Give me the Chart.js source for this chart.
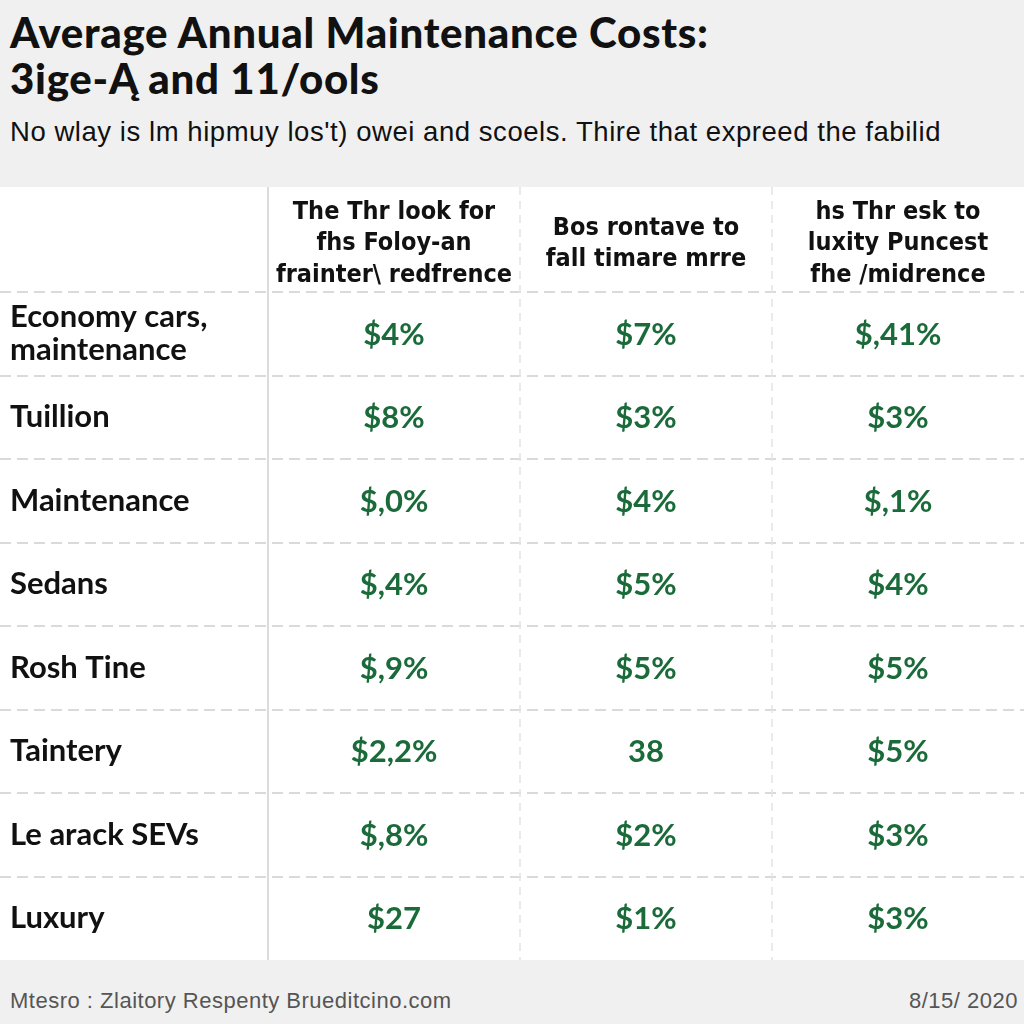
<!DOCTYPE html>
<html>
<head>
<meta charset="utf-8">
<script src="https://cdn.jsdelivr.net/npm/chart.js@4.4.1/dist/chart.umd.min.js"></script>
<style>
  html, body { margin: 0; padding: 0; width: 1024px; height: 1024px; overflow: hidden; background: #f0f0f0; }
  #title { position: absolute; left: 10px; top: 9px; margin: 0; color: #111;
           font: 900 42px/46px Lato, sans-serif; letter-spacing: 0.7px; }
  #subtitle { position: absolute; left: 10px; top: 116px; margin: 0; color: #111;
              font: 27.5px/32px "Liberation Sans", sans-serif; letter-spacing: 0.55px; }
  #table { position: absolute; left: 0; top: 187px; width: 1024px; height: 773px; background: #fff; }
  #footer { position: absolute; left: 0; top: 960px; width: 1024px; height: 64px; color: #555;
            font: 22px/26px "Liberation Sans", sans-serif; letter-spacing: 0.5px; }
  #footer .src { position: absolute; left: 10px; top: 28px; }
  #footer .date { position: absolute; right: 6px; top: 28px; }
</style>
</head>
<body>
<h1 id="title">Average Annual Maintenance Costs:<br>3ige-Ą and 11/ools</h1>
<p id="subtitle">No wlay is lm hipmuy los't) owei and scoels. Thire that expreed the fabilid</p>
<div id="table"><canvas id="chart"></canvas></div>
<div id="footer"><span class="src">Mtesro : Zlaitory Respenty Brueditcino.com</span><span class="date">8/15/ 2020</span></div>

<script>
// ── Table data ────────────────────────────────────────────────────────────────
const rowLabels = [["Economy cars,", "maintenance"], "Tuillion", "Maintenance", "Sedans",
                   "Rosh Tine", "Taintery", "Le arack SEVs", "Luxury"];
const columnHeaders = [
  ["The Thr look for", "fhs Foloy-an", "frainter\\ redfrence"],
  ["Bos rontave to", "fall timare mrre"],
  ["hs Thr esk to", "luxity Puncest", "fhe /midrence"]
];
const col1Values = ["$4%", "$8%", "$,0%", "$,4%", "$,9%", "$2,2%", "$,8%", "$27"];
const col2Values = ["$7%", "$3%", "$4%", "$5%", "$5%", "38", "$2%", "$1%"];
const col3Values = ["$,41%", "$3%", "$,1%", "$4%", "$5%", "$5%", "$3%", "$3%"];

const columns = [col1Values, col2Values, col3Values];
const GREEN = "#1b6b3a";

// one scatter dataset per column, one (invisible) point per cell
const datasets = columns.map((vals, c) => ({
  data: vals.map((_, r) => ({ x: c, y: r })),
  cellText: vals,
  pointRadius: 0,
  pointHoverRadius: 0
}));

// ── Plugins ──────────────────────────────────────────────────────────────────
const tableRules = {
  id: "tableRules",
  beforeDatasetsDraw(chart) {
    const { ctx, scales: { x, y } } = chart;
    const W = chart.width, H = chart.height;
    ctx.save();
    // row separators, full width
    ctx.strokeStyle = "#dadada";
    ctx.lineWidth = 2;
    ctx.setLineDash([11, 6]);
    for (let r = 0; r < rowLabels.length; r++) {
      const py = Math.round(y.getPixelForValue(r - 0.5));
      ctx.beginPath(); ctx.moveTo(0, py); ctx.lineTo(W, py); ctx.stroke();
    }
    // column separators
    ctx.setLineDash([]);
    ctx.strokeStyle = "#dcdcdc";
    const x0 = Math.round(x.getPixelForValue(-0.5));
    ctx.beginPath(); ctx.moveTo(x0, 0); ctx.lineTo(x0, H); ctx.stroke();
    ctx.strokeStyle = "#e4e4e4";
    ctx.lineWidth = 1.5;
    ctx.setLineDash([8, 6]);
    for (let c = 0; c < columnHeaders.length - 1; c++) {
      const px = Math.round(x.getPixelForValue(c + 0.5));
      ctx.beginPath(); ctx.moveTo(px, 0); ctx.lineTo(px, H); ctx.stroke();
    }
    ctx.restore();
  }
};

const cellText = {
  id: "cellText",
  afterDatasetsDraw(chart) {
    const { ctx } = chart;
    ctx.save();
    ctx.fillStyle = GREEN;
    ctx.font = "bold 31px Lato, sans-serif";
    ctx.textAlign = "center";
    ctx.textBaseline = "middle";
    chart.data.datasets.forEach((ds, i) => {
      chart.getDatasetMeta(i).data.forEach((pt, j) => {
        ctx.fillText(ds.cellText[j], pt.x, pt.y + 1);
      });
    });
    ctx.restore();
  }
};

// ── Chart ────────────────────────────────────────────────────────────────────
new Chart(document.getElementById("chart"), {
  type: "scatter",
  data: { datasets },
  options: {
    responsive: true,
    maintainAspectRatio: false,
    animation: false,
    events: [],
    layout: { padding: { left: 10, top: 0, right: 0, bottom: 0 } },
    plugins: { legend: { display: false }, tooltip: { enabled: false } },
    scales: {
      x: {
        type: "linear", position: "top", min: -0.5, max: columnHeaders.length - 0.5,
        afterBuildTicks: (s) => { s.ticks = columnHeaders.map((_, i) => ({ value: i })); },
        afterFit: (s) => { s.height = 105; s.paddingLeft = 0; s.paddingRight = 0; },
        grid: { display: false }, border: { display: false },
        ticks: {
          callback: (v) => columnHeaders[v],
          autoSkip: false, maxRotation: 0, minRotation: 0,
          crossAlign: "center", padding: 9, color: "#111",
          font: { family: "'DejaVu Sans Condensed', sans-serif", size: 25, weight: "bold", lineHeight: 1.25 }
        }
      },
      y: {
        type: "linear", reverse: true, min: -0.5, max: rowLabels.length - 0.5,
        afterBuildTicks: (s) => { s.ticks = rowLabels.map((_, i) => ({ value: i })); },
        afterFit: (s) => { s.width = 258; s.paddingTop = 0; s.paddingBottom = 0; },
        grid: { display: false }, border: { display: false },
        ticks: {
          callback: (v) => rowLabels[v],
          autoSkip: false, crossAlign: "far", color: "#111",
          font: { family: "Lato, sans-serif", size: 31, weight: "bold", lineHeight: 1.07 }
        }
      }
    }
  },
  plugins: [tableRules, cellText]
});
</script>
</body>
</html>
